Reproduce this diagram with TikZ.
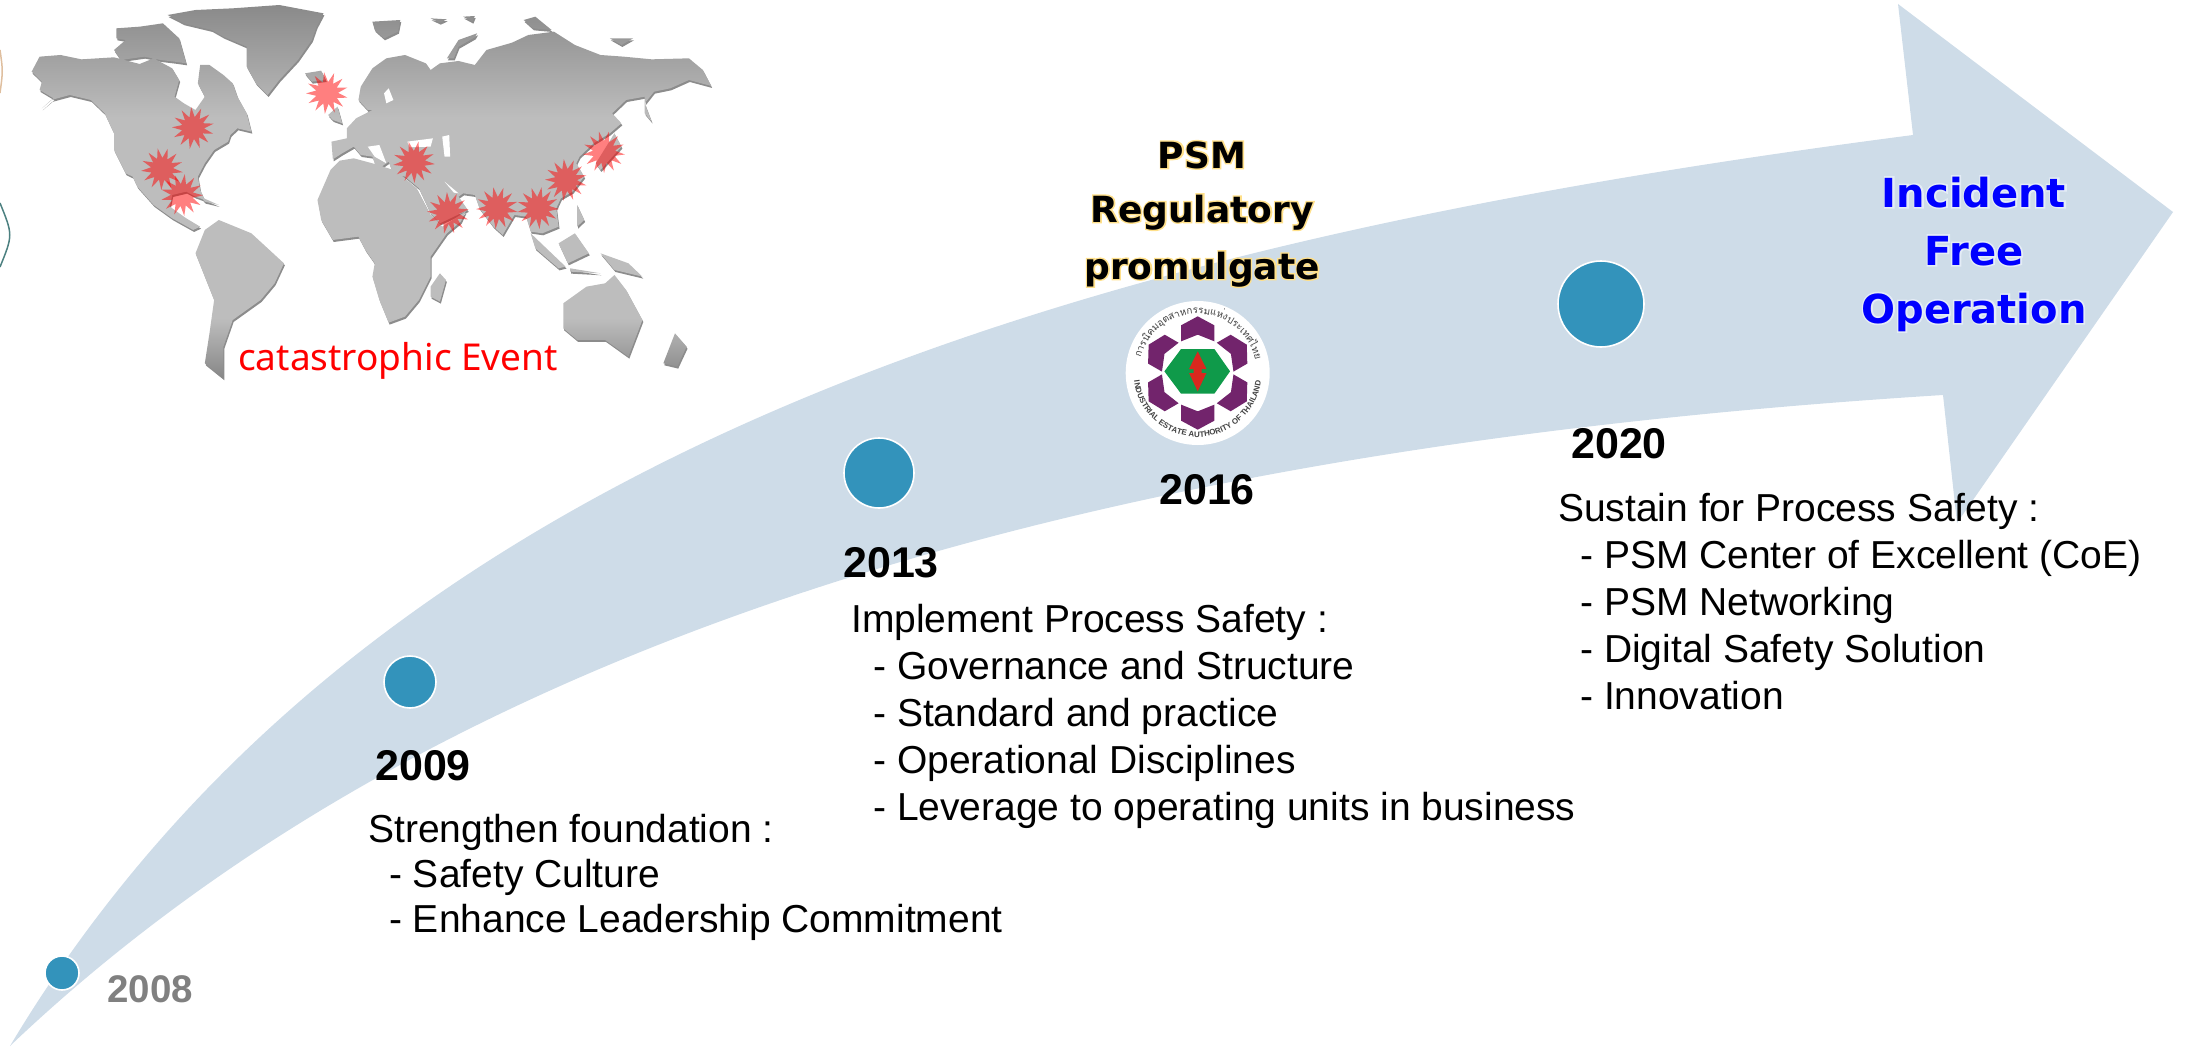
\documentclass[tikz,border=0pt]{standalone}
\usepackage{fontspec}
\usetikzlibrary{shapes.geometric,decorations.text}
\setmainfont{Liberation Sans}
\newfontfamily\lblfont{DejaVu Sans}
\newfontfamily\glowfont[BoldFeatures={FakeBold=8}]{DejaVu Sans}
\newfontfamily\capfont{Noto Sans}
\newfontfamily\thaifont[Script=Thai]{Loma}
\definecolor{arrowblue}{HTML}{CEDCE8}
\definecolor{dotblue}{HTML}{3393BB}
\definecolor{logopurple}{HTML}{72246C}
\definecolor{logogreen}{HTML}{0F9A4A}
\definecolor{logored}{HTML}{D9281E}
\definecolor{psmglow}{HTML}{FFE08A}
\definecolor{goalglow}{HTML}{E4ECF6}
\pgfdeclareverticalshading{mapshade}{100bp}{color(0bp)=(black!47);color(25bp)=(black!47);color(33bp)=(black!26);color(60bp)=(black!26);color(75bp)=(black!46);color(100bp)=(black!46)}
\newcommand{\halotext}[2]{\makebox[0pt][c]{\glowfont\bfseries\color{#1}#2}\makebox[0pt][c]{#2}}
\newcommand{\mapland}{
 (68,215)--(85,170)--(130,165)--(175,178)--(245,172)--(300,192)--(330,175)--(370,205)--(385,240)--(375,290)--(395,310)--(420,330)--(440,290)--(425,250)--(430,195)--(450,195)--(480,225)--(500,250)--(510,290)--(530,340)--(540,395)--(510,385)--(495,405)--(490,425)--(460,450)--(440,490)--(425,530)--(430,570)--(440,600)--(420,590)--(400,575)--(370,585)--(365,620)--(400,655)--(430,680)--(415,690)--(370,655)--(330,615)--(295,560)--(285,530)--(270,520)--(245,450)--(245,400)--(225,340)--(195,300)--(150,285)--(110,300)--(90,325)--(115,295)--(85,270)--(90,245)--cycle
 (250,85)--(300,80)--(350,70)--(385,115)--(400,190)--(375,185)--(345,180)--(310,170)--(260,180)--(245,150)--(270,120)--(250,115)--cycle
 (360,45)--(420,30)--(500,25)--(600,15)--(695,40)--(680,80)--(670,120)--(640,180)--(600,240)--(575,285)--(550,250)--(530,200)--(530,140)--(480,110)--(455,90)--(395,70)--cycle
 (655,220)--(690,212)--(700,240)--(670,245)--cycle
 (705,345)--(725,320)--(735,370)--(715,360)--cycle
 (800,65)--(860,60)--(855,95)--(825,115)--(805,90)--cycle
 (925,55)--(960,58)--(945,68)--cycle (995,50)--(1020,48)--(1015,65)--cycle
 (960,175)--(985,120)--(1025,100)--(1020,112)--(985,140)--(975,175)--cycle
 (1125,60)--(1150,50)--(1185,90)--(1145,85)--cycle
 (1310,115)--(1360,115)--(1335,135)--cycle
 (770,300)--(775,260)--(800,205)--(830,175)--(870,165)--(915,190)--(925,210)--(945,190)--(985,183)--(1020,195)--(1045,150)--(1100,128)--(1135,105)--(1190,95)--(1235,135)--(1290,165)--(1340,170)--(1400,178)--(1480,175)--(1510,210)--(1528,258)--(1480,240)--(1440,265)--(1405,275)--(1385,310)--(1400,365)--(1385,340)--(1385,290)--(1345,300)--(1315,340)--(1335,370)--(1310,400)--(1275,430)--(1245,470)--(1238,490)--(1255,530)--(1230,575)--(1205,595)--(1195,625)--(1200,680)--(1165,700)--(1140,695)--(1130,650)--(1105,645)--(1080,705)--(1060,680)--(1030,625)--(1020,585)--(995,580)--(985,590)--(1005,630)--(945,670)--(925,640)--(900,565)--(870,530)--(850,520)--(840,505)--(835,485)--(810,510)--(800,470)--(775,465)--(760,440)--(735,460)--(715,478)--(712,425)--(745,415)--(745,385)--(765,355)--(800,330)--(790,330)--cycle
 (682,600)--(710,510)--(730,482)--(760,475)--(800,490)--(850,512)--(870,535)--(895,565)--(925,645)--(950,680)--(1000,635)--(990,665)--(960,700)--(925,770)--(925,830)--(900,900)--(870,950)--(835,968)--(815,900)--(800,830)--(805,790)--(785,750)--(770,710)--(715,720)--(690,660)--cycle
 (945,820)--(958,840)--(945,905)--(925,890)--(925,860)--cycle
 (420,760)--(440,690)--(470,660)--(540,700)--(610,790)--(590,850)--(560,900)--(500,960)--(480,1040)--(480,1135)--(440,1090)--(450,1000)--(460,900)--cycle
 (1210,910)--(1260,860)--(1300,850)--(1320,825)--(1345,870)--(1380,960)--(1350,1070)--(1300,1020)--(1240,1020)--(1210,985)--cycle
 (1450,1000)--(1475,1040)--(1455,1100)--(1425,1090)--cycle
 (1140,700)--(1215,800)--(1200,805)--(1150,745)--cycle
 (1200,730)--(1235,700)--(1265,760)--(1220,790)--cycle
 (1240,615)--(1255,660)--(1240,680)--cycle
 (1290,760)--(1350,790)--(1380,830)--(1320,810)--cycle
 (1225,805)--(1290,820)--(1225,815)--cycle
 (1320,400)--(1335,440)--(1290,510)--(1280,490)--cycle
 (430,590)--(470,615)--(440,605)--cycle
}
\tikzset{
 arrowshape/.style={fill=arrowblue,draw=none},
 dot/.style={circle,fill=dotblue,draw=white,line width=1.6pt,inner sep=0pt},
 burst/.style={star,star points=13,star point ratio=1.9,inner sep=0pt,minimum size=42pt,fill=red,fill opacity=.5,draw=none},
 yearlbl/.style={anchor=base west,inner sep=0pt,font=\fontsize{43pt}{43pt}\selectfont\bfseries},
 bodylbl/.style={anchor=base west,inner sep=0pt,align=left,font=\fontsize{39pt}{47pt}\selectfont},
 psmlbl/.style={anchor=base,inner sep=0pt,font=\fontsize{36pt}{36pt}\lblfont\selectfont\bfseries},
 goallbl/.style={anchor=base,inner sep=0pt,text=blue,font=\fontsize{40pt}{40pt}\lblfont\selectfont\bfseries},
}
\begin{document}
\begin{tikzpicture}[x=1pt,y=-1pt]
\useasboundingbox (0,0) rectangle (2195,1049);
% arrow
\fill[arrowshape] (10,1046) .. controls (375,435) and (1113,239) .. (1913,135)
  -- (1898,4) -- (2173,212) -- (1957,523) -- (1943,395)
  .. controls (1143,445) and (460,618) .. (10,1046) -- cycle;
% left edge remnants
\draw[draw=brown!50!white,line width=1.5pt] (0,50) .. controls (3,71) .. (0,93);
\draw[draw=teal!40!gray,line width=1.5pt] (0,203) .. controls (13,235) .. (0,267);
% world map
\begin{scope}[xscale=0.4655,yscale=0.3333]
 \fill[black!45] [shift={(2,6)}] \mapland;
 \path[shading=mapshade] \mapland;
 \fill[white] (875,425)--(930,415)--(925,440)--(880,442)--cycle;
 \fill[white] (950,410)--(965,405)--(967,470)--(955,470)--cycle;
 \fill[white] (835,265)--(845,300)--(830,310)--(825,280)--cycle;
 \fill[white] (955,545)--(985,580)--(975,578)--cycle;
 \fill[white] (790,440)--(815,435)--(830,490)--(805,470)--cycle;
\end{scope}
\node[burst,rotate=5] (b1) at (193,128) {};
\node[burst,rotate=12] (b2) at (162,169) {};
\node[burst,rotate=20] (b3) at (182,195) {};
\node[burst,rotate=8] (b4) at (327,93) {};
\node[burst,rotate=15] (b5) at (414,162) {};
\node[burst,rotate=3] (b6) at (448,213) {};
\node[burst,rotate=10] (b7) at (497,208) {};
\node[burst,rotate=18] (b8) at (538,208) {};
\node[burst,rotate=6] (b9) at (566,180) {};
\node[burst,rotate=14] (b10) at (604,152) {};
\node[anchor=base west,inner sep=0pt,text=red,font=\fontsize{37pt}{37pt}\capfont\selectfont] (cat) at (238,370) {catastrophic Event};
% dots
\node[dot,minimum size=34pt] (d08) at (62,973) {};
\node[dot,minimum size=52pt] (d09) at (410,682) {};
\node[dot,minimum size=70pt] (d13) at (879,473) {};
\node[dot,minimum size=86pt] (d20) at (1601,304) {};
% years
\node[anchor=base west,inner sep=0pt,text=black!50,font=\fontsize{38.5pt}{38.5pt}\selectfont\bfseries] (y08) at (107,1002) {2008};
\node[yearlbl] (y09) at (375,780) {2009};
\node[yearlbl] (y13) at (843,577) {2013};
\node[yearlbl] (y16) at (1159,504) {2016};
\node[yearlbl] (y20) at (1571,458) {2020};
% body text (a multi-line node's base is its last line)
\node[bodylbl,font=\fontsize{39pt}{45pt}\selectfont] (t09) at (368,932) {Strengthen foundation :\\\hspace*{21pt}- Safety Culture\\\hspace*{21pt}- Enhance Leadership Commitment};
\node[bodylbl] (t13) at (851,820.5) {Implement Process Safety :\\\hspace*{22pt}- Governance and Structure\\\hspace*{22pt}- Standard and practice\\\hspace*{22pt}- Operational Disciplines\\\hspace*{22pt}- Leverage to operating units in business};
\node[bodylbl] (t20) at (1558,709) {Sustain for Process Safety :\\\hspace*{22pt}- PSM Center of Excellent (CoE)\\\hspace*{22pt}- PSM Networking\\\hspace*{22pt}- Digital Safety Solution\\\hspace*{22pt}- Innovation};
% PSM
\node[psmlbl] (p1) at (1202,168) {\halotext{psmglow}{PSM}};
\node[psmlbl] (p2) at (1202,222) {\halotext{psmglow}{Regulatory}};
\node[psmlbl] (p3) at (1202,279) {\halotext{psmglow}{promulgate}};
% goal
\node[goallbl] (g1) at (1974,207) {\halotext{goalglow}{Incident}};
\node[goallbl] (g2) at (1974,265) {\halotext{goalglow}{Free}};
\node[goallbl] (g3) at (1974,323) {\halotext{goalglow}{Operation}};
% logo
\node[circle,fill=white,minimum size=144pt,inner sep=0pt] (logo) at (1197.7,373) {};
\begin{scope}[shift={(logo.center)},scale=0.3333]
 \foreach \a in {0,60,...,300}{
  \fill[logopurple,rotate=\a] (0,-170)--(50,-143)--(50,-95)--(0,-115)--(-50,-95)--(-50,-143)--cycle;
 }
 \fill[logogreen] (-50,-72)--(50,-72)--(97,-5)--(50,62)--(-50,62)--(-100,-5)--cycle;
 \fill[logored] (0,-65)--(26,-12)--(12,-12)--(12,0)--(26,0)--(0,55)--(-26,0)--(-12,0)--(-12,-12)--(-26,-12)--cycle;
\end{scope}
\path[postaction={decorate},decoration={text along path,text align={center},text={|\fontsize{7.9pt}{7.9pt}\selectfont\bfseries\color{black!75}|INDUSTRIAL ESTATE AUTHORITY OF THAILAND}}]
  (1133.7,377.5) arc[start angle=176,end angle=4,radius=64];
\path[postaction={decorate},decoration={text along path,text align={center},text={|\fontsize{9.8pt}{9.8pt}\thaifont\selectfont\color{black!75}|การนิคมอุตสาหกรรมแห่งประเทศไทย}}]
  (1139,379) arc[start angle=174,end angle=368,radius=59];
\end{tikzpicture}
\end{document}
